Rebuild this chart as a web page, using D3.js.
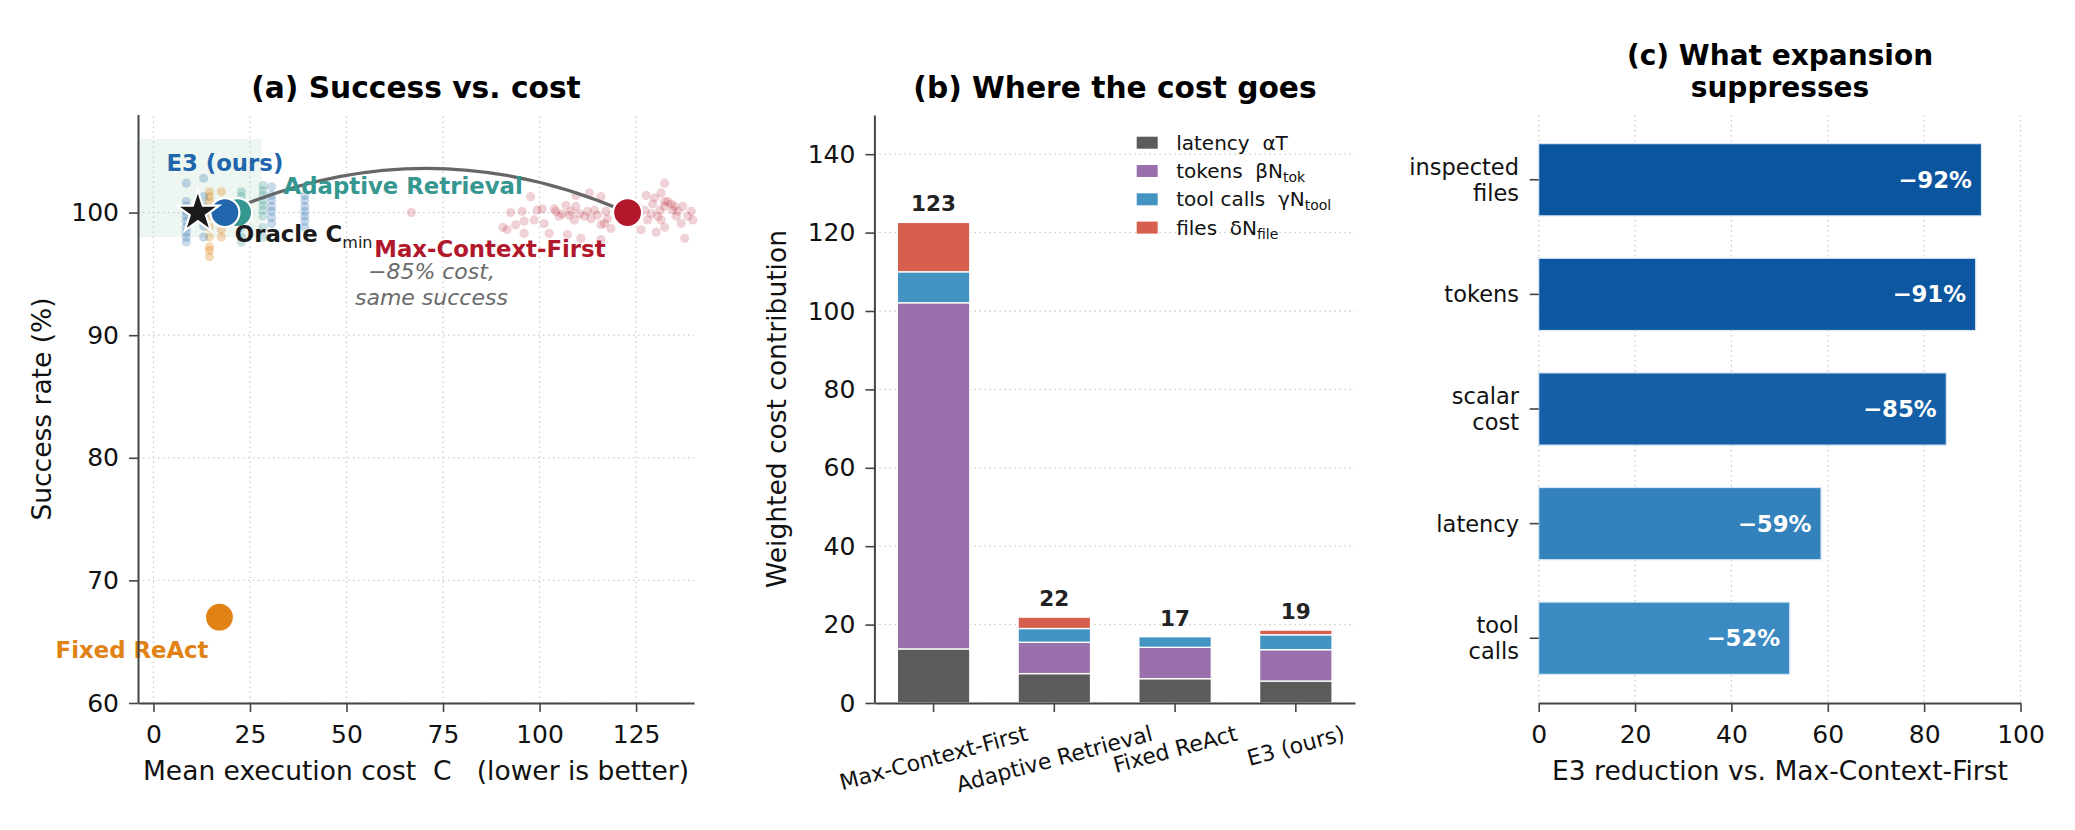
<!DOCTYPE html>
<meta charset="utf-8">
<style>
body { margin: 0; background: #fff; }
svg { font-family: "DejaVu Sans", sans-serif; }
.grid line { stroke: #cccccc; stroke-width: 1.3; stroke-dasharray: 1.5,3.5; }
.axis path { stroke: #444; stroke-width: 2; }
.axis line { stroke: #444; stroke-width: 1.6; }
.axis text { font-family: "DejaVu Sans", sans-serif; font-size: 25px; fill: #111; }
.title { font-size: 29.7px; font-weight: bold; fill: #000; text-anchor: middle; }
.alabel { font-size: 26.5px; fill: #111; text-anchor: middle; white-space: pre; }
</style>
<svg width="2075" height="830"></svg>
<script src="https://d3js.org/d3.v7.min.js"></script>
<script>

// ---- data: panel (a) success vs cost
var methods = ["Max-Context-First", "Adaptive Retrieval", "Fixed ReAct", "E3 (ours)"];
var meanCost = [122.8, 21.8, 17.1, 18.5];
var meanSuccess = [100, 100, 67.0, 100];
var oracleCost = 11.5, oracleSuccess = 100;
var shadeCost = [-3.5, 28], shadeSuccess = [98, 106];

// per-run points [cost, success]
var mcfRuns = [[66.8,100],[90.5,98.8],[91.6,98.6],[92.5,100.0],[93.8,99.0],[95.5,100.1],[96.0,99.3],[96.0,98.3],
  [97.7,101.3],[98.6,99.4],[99.4,100.2],[100.7,100.3],[101.2,99.1],[102.5,98.3],[103.8,100.3],[104.2,100.1],
  [105.1,99.7],[105.9,99.9],[106.8,100.6],[107.2,98.2],[107.7,99.8],[108.1,100.1],[109.0,99.4],[109.4,100.5],
  [109.4,101.4],[110.3,99.9],[110.7,97.9],[111.6,99.7],[112.4,100.1],[112.9,101.6],[113.3,99.5],[114.2,100.2],
  [115.0,99.8],[115.9,99.0],[115.9,101.3],[115.9,97.8],[116.8,99.1],[117.2,100.1],[117.6,99.5],[118.5,98.7],
  [125.4,100.5],[126.3,98.6],[127.2,100.2],[127.6,101.4],[128.0,99.4],[128.9,99.9],[129.3,100.7],[129.8,101.2],
  [130.2,98.4],[130.6,99.7],[131.1,100.2],[131.5,101.6],[131.5,99.4],[132.4,102.4],[132.4,100.5],[132.4,98.8],
  [132.4,100.9],[133.2,100.9],[134.1,100.7],[134.5,100.2],[135.0,100.5],[135.4,99.7],[135.8,100.1],[136.7,99.1],
  [137.1,100.5],[137.6,97.9],[138.4,99.7],[139.3,100.1],[139.7,99.4]];
var arRuns = [[22.8,101.7],[22.8,101.3],[22.8,100.9],[22.8,100.5],[22.8,99.7],[22.8,98.8],[22.8,98.0],[22.8,97.6],
  [28.4,102.2],[28.4,101.8],[28.4,101.4],[28.4,101.0],[28.4,100.6],[28.4,100.2],[28.4,99.7],[28.4,98.8],[28.4,98.0]];
var reactRuns = [[14.5,101.7],[14.5,101.3],[14.5,100.9],[14.5,99.7],[14.5,98.8],[14.5,98.0],[14.5,97.2],
  [14.5,96.9],[14.5,96.4],[17.6,101.7],[17.6,98.6],[17.6,98.0]];
var e3Runs = [[8.5,102.4],[8.5,100.9],[8.5,100.5],[8.5,100.1],[8.5,99.7],[8.5,99.3],[8.5,98.8],[8.5,98.4],
  [8.5,98.0],[8.5,97.6],[13.0,102.8],[13.0,101.3],[13.0,100.5],[13.0,99.7],[13.0,98.9],[13.0,98.0],
  [30.6,102.1],[30.6,101.4],[30.6,101.0],[30.6,100.5],[30.6,100.1],[30.6,99.6],[30.6,99.1],
  [39.2,101.4],[39.2,101.0],[39.2,100.5],[39.2,100.1],[39.2,99.7],[39.2,99.3],[39.2,98.8]];
var xTicksA = [0, 25, 50, 75, 100, 125];
var yTicksA = [60, 70, 80, 90, 100];

// ---- data: panel (b) cost breakdown
var latencyCost = [13.8, 7.5, 6.2, 5.6];
var tokenCost   = [88.3, 8.0, 8.0, 8.0];
var toolCost    = [7.9, 3.5, 2.7, 3.8];
var fileCost    = [12.6, 2.9, 0.0, 1.2];
var compNames = [["latency  \u03b1T", ""], ["tokens  \u03b2N", "tok"], ["tool calls  \u03b3N", "tool"], ["files  \u03b4N", "file"]];
var yTicksB = [0, 20, 40, 60, 80, 100, 120, 140];

// ---- data: panel (c) reductions
var metrics = ["inspected\nfiles", "tokens", "scalar\ncost", "latency", "tool\ncalls"];
var reductions = [91.9, 90.7, 84.6, 58.6, 52.1];
var xTicksC = [0, 20, 40, 60, 80, 100];

var cMCF = "#b2182b", cAR = "#35978f", cReAct = "#e08214", cE3 = "#2166ac";
var compColors = ["#5b5b5b", "#9970ab", "#4393c3", "#d6604d"];

var svg = d3.select("svg");
svg.append("rect").attr("width", 2075).attr("height", 830).attr("fill", "#fff");

// ================= panel (a)
var xa = d3.scaleLinear().domain([-4, 140]).range([138, 694]);
var ya = d3.scaleLinear().domain([60, 108]).range([703, 114.5]);
var ga = svg.append("g");

ga.append("rect")
  .attr("x", xa(shadeCost[0])).attr("width", xa(shadeCost[1]) - xa(shadeCost[0]))
  .attr("y", ya(shadeSuccess[1])).attr("height", ya(shadeSuccess[0]) - ya(shadeSuccess[1]))
  .attr("fill", "#edf6f0");

var gridA = ga.append("g").attr("class", "grid");
gridA.selectAll(".gx").data(xTicksA).join("line").attr("class", "gx")
  .attr("x1", d => xa(d)).attr("x2", d => xa(d)).attr("y1", ya(60)).attr("y2", ya(108));
gridA.selectAll(".gy").data(yTicksA).join("line").attr("class", "gy")
  .attr("y1", d => ya(d)).attr("y2", d => ya(d)).attr("x1", xa(-4)).attr("x2", xa(140));

var runSets = [[mcfRuns, cMCF, 0.2], [reactRuns, cReAct, 0.3], [arRuns, cAR, 0.28], [e3Runs, cE3, 0.25]];
runSets.forEach(function(s) {
  ga.append("g").selectAll("circle").data(s[0]).join("circle")
    .attr("cx", d => xa(d[0])).attr("cy", d => ya(d[1])).attr("r", 4.6)
    .attr("fill", s[1]).attr("fill-opacity", s[2]);
});

// arc from E3 to Max-Context-First
var p0 = [xa(meanCost[3]), ya(meanSuccess[3])], p2 = [xa(meanCost[0]), ya(meanSuccess[0])];
var ctrl = [(p0[0] + p2[0]) / 2, (p0[1] + p2[1]) / 2 - 0.22 * (p2[0] - p0[0])];
var arc = d3.path();
arc.moveTo(p0[0], p0[1]);
arc.quadraticCurveTo(ctrl[0], ctrl[1], p2[0], p2[1]);
ga.append("path").attr("d", arc.toString()).attr("fill", "none")
  .attr("stroke", "#666").attr("stroke-width", 3.2);

var dotOrder = [1, 3, 2, 0], dotColors = [cMCF, cAR, cReAct, cE3];
ga.append("g").selectAll("circle").data(dotOrder).join("circle")
  .attr("cx", i => xa(meanCost[i])).attr("cy", i => ya(meanSuccess[i])).attr("r", 14.5)
  .attr("fill", i => dotColors[i]).attr("stroke", "#fff").attr("stroke-width", 2.2);

ga.append("path").attr("d", d3.symbol(d3.symbolStar, 560)())
  .attr("transform", "translate(" + xa(oracleCost) + "," + ya(oracleSuccess) + ")")
  .attr("fill", "#1a1a1a").attr("stroke", "#fff").attr("stroke-width", 2.2);

var lab = ga.append("g").style("font-size", "22.8px").style("font-weight", "bold");
lab.append("text").attr("x", xa(meanCost[3])).attr("y", ya(meanSuccess[3]) - 42)
  .attr("text-anchor", "middle").attr("fill", cE3).text("E3 (ours)");
lab.append("text").attr("x", xa(meanCost[1]) + 46).attr("y", ya(meanSuccess[1]) - 19)
  .attr("fill", cAR).text("Adaptive Retrieval");
var orc = lab.append("text").attr("x", xa(oracleCost) + 37).attr("y", ya(oracleSuccess) + 29).attr("fill", "#1a1a1a");
orc.append("tspan").text("Oracle C");
orc.append("tspan").attr("dy", 6).style("font-weight", "normal").style("font-size", "16px").text("min");
lab.append("text").attr("x", xa(meanCost[0]) - 22).attr("y", ya(meanSuccess[0]) + 44)
  .attr("text-anchor", "end").attr("fill", cMCF).text("Max-Context-First");
lab.append("text").attr("x", xa(meanCost[2]) - 11).attr("y", ya(meanSuccess[2]) + 41)
  .attr("text-anchor", "end").attr("fill", cReAct).text("Fixed ReAct");

var note = ga.append("text").attr("text-anchor", "middle").attr("fill", "#6b6b6b")
  .style("font-size", "22px").style("font-style", "italic");
note.append("tspan").attr("x", xa(72)).attr("y", ya(94.6)).text("\u221285% cost,");
note.append("tspan").attr("x", xa(72)).attr("dy", 26.7).text("same success");

ga.append("g").attr("class", "axis").attr("transform", "translate(0," + ya(60) + ")")
  .call(d3.axisBottom(xa).tickValues(xTicksA).tickSize(9).tickPadding(13).tickSizeOuter(0));
ga.append("g").attr("class", "axis").attr("transform", "translate(" + xa(-4) + ",0)")
  .call(d3.axisLeft(ya).tickValues(yTicksA).tickSize(9).tickPadding(10).tickSizeOuter(0));

ga.append("text").attr("class", "title").attr("x", 416).attr("y", 98).text("(a) Success vs. cost");
ga.append("text").attr("class", "alabel").attr("x", 416).attr("y", 780)
  .text("Mean execution cost  C   (lower is better)");
ga.append("text").attr("class", "alabel").attr("transform", "translate(42,409) rotate(-90)")
  .attr("dy", "0.35em").text("Success rate (%)");

// ================= panel (b)
var xb = d3.scaleBand().domain(methods).range([874.4, 1355]).paddingInner(0.4).paddingOuter(0.19);
var yb = d3.scaleLinear().domain([0, 150]).range([703, 115]);
var gb = svg.append("g");

gb.append("g").attr("class", "grid").selectAll("line").data(yTicksB).join("line")
  .attr("x1", 874.4).attr("x2", 1355).attr("y1", d => yb(d)).attr("y2", d => yb(d));

var rows = methods.map(function(m, i) {
  return { method: m, c0: latencyCost[i], c1: tokenCost[i], c2: toolCost[i], c3: fileCost[i] };
});
var series = d3.stack().keys(["c0", "c1", "c2", "c3"])(rows);
gb.append("g").selectAll("g").data(series).join("g")
  .attr("fill", (d, i) => compColors[i])
  .selectAll("rect").data(d => d).join("rect")
  .attr("x", d => xb(d.data.method)).attr("width", xb.bandwidth())
  .attr("y", d => yb(d[1])).attr("height", d => Math.max(0, yb(d[0]) - yb(d[1])))
  .attr("stroke", "#fff").attr("stroke-width", 1.3);

gb.append("g").selectAll("text").data(rows).join("text")
  .attr("x", d => xb(d.method) + xb.bandwidth() / 2)
  .attr("y", d => yb(d.c0 + d.c1 + d.c2 + d.c3) - 11)
  .attr("text-anchor", "middle").attr("fill", "#222")
  .style("font-size", "21.5px").style("font-weight", "bold")
  .text(d => Math.round(d.c0 + d.c1 + d.c2 + d.c3));

gb.append("g").attr("class", "axis").attr("transform", "translate(0," + yb(0) + ")")
  .call(d3.axisBottom(xb).tickSize(9).tickSizeOuter(0).tickFormat(""));
gb.append("g").attr("class", "axis").attr("transform", "translate(874.4,0)")
  .call(d3.axisLeft(yb).tickValues(yTicksB).tickSize(9).tickPadding(10).tickSizeOuter(0));

var ang = 15 * Math.PI / 180;
methods.forEach(function(m) {
  var t = gb.append("text").attr("text-anchor", "middle").attr("dy", "0.35em")
    .style("font-size", "22px").attr("fill", "#111").text(m);
  var w = t.node().getComputedTextLength(), h = 22;
  var cx = xb(m) + xb.bandwidth() / 2;
  var cy = 722 + (w * Math.sin(ang) + h * Math.cos(ang)) / 2;
  t.attr("transform", "translate(" + cx + "," + cy + ") rotate(-15)");
});

var leg = gb.append("g").selectAll("g").data(compNames).join("g")
  .attr("transform", (d, i) => "translate(1136.7," + (142.7 + i * 28.3) + ")");
leg.append("rect").attr("x", 0).attr("y", -6).attr("width", 21).attr("height", 12)
  .attr("fill", (d, i) => compColors[i]);
var lt = leg.append("text").attr("x", 39.5).attr("y", 7).style("font-size", "20px")
  .style("white-space", "pre").attr("fill", "#111");
lt.append("tspan").text(d => d[0]);
lt.append("tspan").attr("dy", 4).style("font-size", "14px").text(d => d[1]);

gb.append("text").attr("class", "title").attr("x", 1115).attr("y", 98).text("(b) Where the cost goes");
gb.append("text").attr("class", "alabel").attr("transform", "translate(777,409) rotate(-90)")
  .attr("dy", "0.35em").text("Weighted cost contribution");

// ================= panel (c)
var xc = d3.scaleLinear().domain([0, 100]).range([1538.7, 2020.5]);
var yc = d3.scaleBand().domain(metrics).range([115, 703]).paddingInner(0.37).paddingOuter(0.25);
var barColor = d3.scaleLinear().domain([52, 92]).range(["#3b8bc2", "#0b559f"]);
var gc = svg.append("g");

gc.append("g").attr("class", "grid").selectAll("line").data(xTicksC).join("line")
  .attr("x1", d => xc(d)).attr("x2", d => xc(d)).attr("y1", 115).attr("y2", 703);

gc.append("g").selectAll("rect").data(metrics).join("rect")
  .attr("x", xc(0)).attr("y", d => yc(d)).attr("height", yc.bandwidth())
  .attr("width", (d, i) => xc(reductions[i]) - xc(0))
  .attr("fill", (d, i) => barColor(reductions[i]))
  .attr("stroke", "#d6e6f4").attr("stroke-width", 1.2);

gc.append("g").selectAll("text").data(metrics).join("text")
  .attr("x", (d, i) => xc(reductions[i]) - 9.6).attr("y", d => yc(d) + yc.bandwidth() / 2 + 8)
  .attr("text-anchor", "end").attr("fill", "#fff")
  .style("font-size", "22.8px").style("font-weight", "bold")
  .text((d, i) => "\u2212" + Math.round(reductions[i]) + "%");

gc.append("g").attr("class", "axis").attr("transform", "translate(0,703)")
  .call(d3.axisBottom(xc).tickValues(xTicksC).tickSize(9).tickPadding(13).tickSizeOuter(0));
var axC = gc.append("g").attr("class", "axis").attr("transform", "translate(1538.7,0)")
  .call(d3.axisLeft(yc).tickSize(9).tickFormat(""));
axC.select(".domain").remove();

metrics.forEach(function(m) {
  var lines = m.split("\n");
  var cy = yc(m) + yc.bandwidth() / 2;
  var t = gc.append("text").attr("text-anchor", "end").style("font-size", "22.5px").attr("fill", "#111");
  lines.forEach(function(s, k) {
    t.append("tspan").attr("x", 1519)
      .attr("y", cy + 8 + (k - (lines.length - 1) / 2) * 26).text(s);
  });
});

var tc = gc.append("text").attr("class", "title").style("font-size", "28px").attr("x", 1780);
tc.append("tspan").attr("x", 1780).attr("y", 65).text("(c) What expansion");
tc.append("tspan").attr("x", 1780).attr("y", 97).text("suppresses");
gc.append("text").attr("class", "alabel").attr("x", 1780).attr("y", 780)
  .text("E3 reduction vs. Max-Context-First");

</script>
